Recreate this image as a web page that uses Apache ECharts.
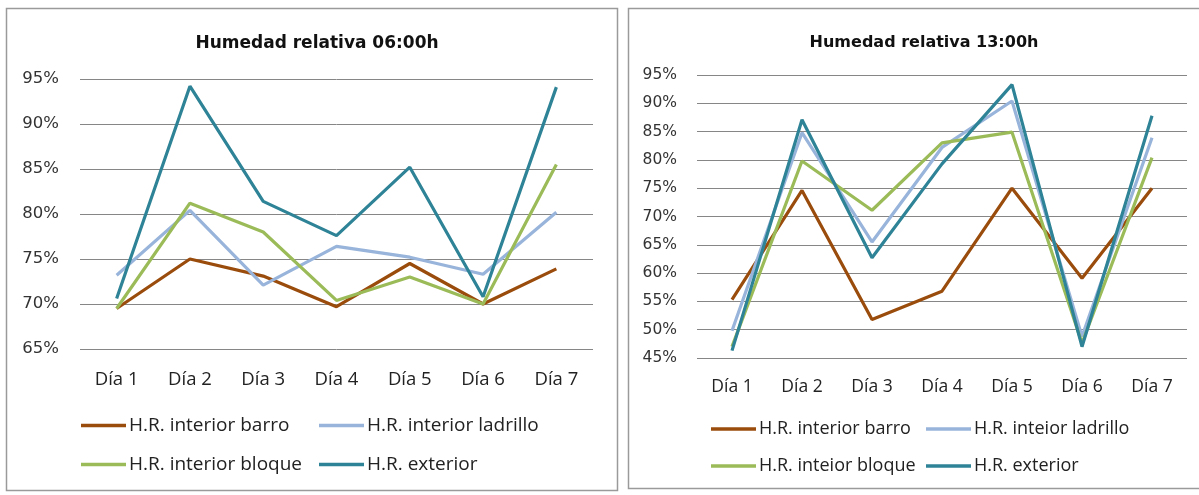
<!DOCTYPE html>
<html>
<head>
<meta charset="utf-8">
<script src="https://cdn.jsdelivr.net/npm/echarts@6/dist/echarts.min.js"></script>
<style>
  html, body { margin: 0; padding: 0; background: #ffffff; }
  #chart { width: 1199px; height: 495px; }
</style>
</head>
<body>
<div id="chart"></div>
<script>
// Días de medición
const dias = ['Día 1', 'Día 2', 'Día 3', 'Día 4', 'Día 5', 'Día 6', 'Día 7'];

// Humedad relativa a las 06:00h (%)
const barro06    = [69.5, 75.0, 73.1, 69.7, 74.5, 70.0, 73.9];
const ladrillo06 = [73.2, 80.4, 72.1, 76.4, 75.2, 73.3, 80.2];
const bloque06   = [69.5, 81.2, 78.0, 70.4, 73.0, 70.0, 85.5];
const exterior06 = [70.6, 94.2, 81.4, 77.6, 85.2, 70.8, 94.1];

// Humedad relativa a las 13:00h (%)
const barro13    = [55.3, 74.6, 51.8, 56.8, 75.0, 59.1, 75.0];
const ladrillo13 = [49.8, 84.8, 65.5, 82.2, 90.4, 48.8, 83.9];
const bloque13   = [47.0, 79.8, 71.1, 83.0, 84.9, 47.6, 80.4];
const exterior13 = [46.3, 87.1, 62.7, 79.3, 93.3, 47.0, 87.8];

// Nombres de las series
const nombres06 = ['H.R. interior barro', 'H.R. interior ladrillo', 'H.R. interior bloque', 'H.R. exterior'];
const nombres13 = ['H.R. interior barro', 'H.R. inteior ladrillo', 'H.R. inteior bloque', 'H.R. exterior'];

// Títulos y escalas
const titulo06 = 'Humedad relativa 06:00h';
const titulo13 = 'Humedad relativa 13:00h';
const ejeY06 = { min: 65, max: 95, interval: 5 };
const ejeY13 = { min: 45, max: 95, interval: 5 };

const colores = ['#9a4c0c', '#98b4da', '#9bbb59', '#2f8396'];
const fuenteTexto = "'Open Sans', 'Noto Sans', sans-serif";
const fuenteTitulo = "'DejaVu Sans', sans-serif";

const chart = echarts.init(document.getElementById('chart'), null, { renderer: 'canvas' });

function serie(nombre, datos, idx, color) {
  return {
    name: nombre,
    type: 'line',
    xAxisIndex: idx,
    yAxisIndex: idx,
    data: datos,
    symbol: 'none',
    smooth: false,
    lineStyle: { color: color, width: 3.2 },
    itemStyle: { color: color },
    emphasis: { disabled: true }
  };
}

function leyenda(nombre, left, top, size) {
  return {
    data: [nombre],
    left: left,
    top: top,
    icon: 'rect',
    itemWidth: 45,
    itemHeight: 3.5,
    padding: 0,
    selectedMode: false,
    textStyle: { fontFamily: fuenteTexto, fontSize: size, color: '#222222', padding: [0, 0, 0, -2] }
  };
}

const ejeX = (idx, size, margin) => ({
  type: 'category',
  gridIndex: idx,
  data: dias,
  boundaryGap: true,
  axisLine: { show: false },
  axisTick: { show: false },
  axisLabel: { fontFamily: fuenteTexto, fontSize: size, color: '#222222', margin: margin }
});

const ejeY = (idx, cfg, size, margin) => ({
  type: 'value',
  gridIndex: idx,
  min: cfg.min,
  max: cfg.max,
  interval: cfg.interval,
  axisLine: { show: false },
  axisTick: { show: false },
  splitLine: { lineStyle: { color: '#868686', width: 1 } },
  axisLabel: {
    formatter: '{value}%',
    fontFamily: fuenteTitulo,
    fontSize: size,
    color: '#333333',
    margin: margin
  }
});

const option = {
  backgroundColor: '#ffffff',
  animation: false,
  graphic: [
    { type: 'rect', shape: { x: 6.5, y: 8.5, width: 611, height: 482 },
      style: { fill: 'none', stroke: '#9a9a9a', lineWidth: 1.5 }, silent: true },
    { type: 'rect', shape: { x: 628.5, y: 8.5, width: 590, height: 480 },
      style: { fill: 'none', stroke: '#9a9a9a', lineWidth: 1.5 }, silent: true }
  ],
  title: [
    { text: titulo06, left: 312, top: 30, textAlign: 'center',
      textStyle: { fontFamily: fuenteTitulo, fontSize: 17, fontWeight: 'bold', color: '#111111' } },
    { text: titulo13, left: 919, top: 30, textAlign: 'center',
      textStyle: { fontFamily: fuenteTitulo, fontSize: 16, fontWeight: 'bold', color: '#111111' } }
  ],
  legend: [
    leyenda(nombres06[0], 81, 416, 19),
    leyenda(nombres06[1], 319, 416, 19),
    leyenda(nombres06[2], 81, 455, 19),
    leyenda(nombres06[3], 319, 455, 19),
    leyenda(nombres13[0], 711, 420, 18),
    leyenda(nombres13[1], 926, 420, 18),
    leyenda(nombres13[2], 711, 457, 18),
    leyenda(nombres13[3], 926, 457, 18)
  ],
  grid: [
    { left: 80, top: 79, width: 513, height: 270 },
    { left: 697, top: 75, width: 490, height: 283 }
  ],
  xAxis: [ejeX(0, 18.5, 21), ejeX(1, 17.5, 20)],
  yAxis: [ejeY(0, ejeY06, 16.5, 21), ejeY(1, ejeY13, 15.5, 20)],
  series: [
    serie(nombres06[0], barro06, 0, colores[0]),
    serie(nombres06[1], ladrillo06, 0, colores[1]),
    serie(nombres06[2], bloque06, 0, colores[2]),
    serie(nombres06[3], exterior06, 0, colores[3]),
    serie(nombres13[0], barro13, 1, colores[0]),
    serie(nombres13[1], ladrillo13, 1, colores[1]),
    serie(nombres13[2], bloque13, 1, colores[2]),
    serie(nombres13[3], exterior13, 1, colores[3])
  ]
};

chart.setOption(option);
</script>
</body>
</html>
